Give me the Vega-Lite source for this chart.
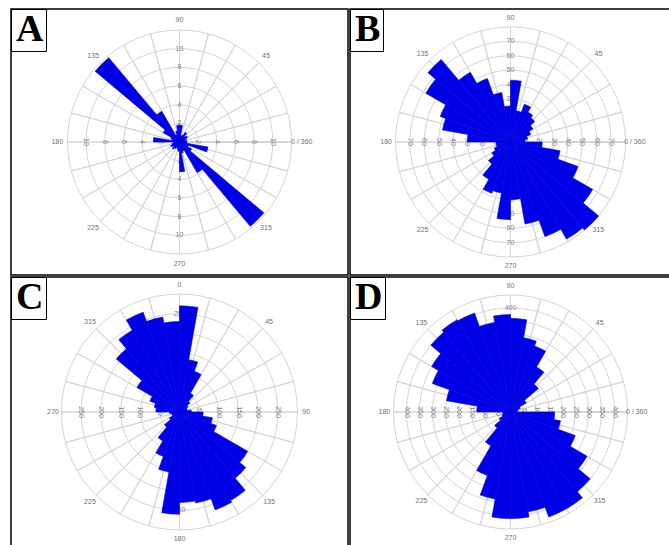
{
"$schema": "https://vega.github.io/schema/vega-lite/v6.json",
"background": "white",
"padding": {"left": 10, "top": 8, "right": 0, "bottom": 0},
"columns": 2,
"spacing": 0,
"resolve": {"scale": {"theta": "independent", "radius": "independent", "color": "independent", "x": "independent", "y": "independent"}, "legend": {"color": "independent"}},
"config": {"view": {"stroke": null}},
"datasets": {
"frame": [{"box": 1}],
"spokes": [{"s":0},{"s":15},{"s":30},{"s":45},{"s":60},{"s":75},{"s":90},{"s":105},{"s":120},{"s":135},{"s":150},{"s":165},{"s":180},{"s":195},{"s":210},{"s":225},{"s":240},{"s":255},{"s":270},{"s":285},{"s":300},{"s":315},{"s":330},{"s":345}],
"dirsM": [{"dir":0,"lab":"0 / 360"},{"dir":45,"lab":"45"},{"dir":90,"lab":"90"},{"dir":135,"lab":"135"},{"dir":180,"lab":"180"},{"dir":225,"lab":"225"},{"dir":270,"lab":"270"},{"dir":315,"lab":"315"}],
"dirsC": [{"dir":0,"lab":"0"},{"dir":45,"lab":"45"},{"dir":90,"lab":"90"},{"dir":135,"lab":"135"},{"dir":180,"lab":"180"},{"dir":225,"lab":"225"},{"dir":270,"lab":"270"},{"dir":315,"lab":"315"}],
"A_rings": [{"ring":2},{"ring":4},{"ring":6},{"ring":8},{"ring":10},{"ring":12}],
"B_rings": [{"ring":10},{"ring":20},{"ring":30},{"ring":40},{"ring":50},{"ring":60},{"ring":70},{"ring":80}],
"C_rings": [{"ring":50},{"ring":100},{"ring":150},{"ring":200},{"ring":250},{"ring":300}],
"D_rings": [{"ring":50},{"ring":100},{"ring":150},{"ring":200},{"ring":250},{"ring":300},{"ring":350},{"ring":400},{"ring":450}],
"A_bins": [
{"panel":"A","a0":0,"a1":10,"n":0.8},{"panel":"A","a0":10,"a1":20,"n":0.6},{"panel":"A","a0":20,"a1":30,"n":0.8},{"panel":"A","a0":30,"a1":40,"n":1.0},{"panel":"A","a0":40,"a1":50,"n":0.8},{"panel":"A","a0":50,"a1":60,"n":1.2},{"panel":"A","a0":60,"a1":70,"n":0.8},{"panel":"A","a0":70,"a1":80,"n":0.6},{"panel":"A","a0":80,"a1":90,"n":1.8},{"panel":"A","a0":90,"a1":100,"n":1.8},{"panel":"A","a0":100,"a1":110,"n":1.2},{"panel":"A","a0":110,"a1":120,"n":0.8},{"panel":"A","a0":120,"a1":130,"n":3.8},{"panel":"A","a0":130,"a1":140,"n":11.8},{"panel":"A","a0":140,"a1":150,"n":2.0},{"panel":"A","a0":150,"a1":160,"n":1.0},{"panel":"A","a0":160,"a1":170,"n":0.8},{"panel":"A","a0":170,"a1":180,"n":2.8},
{"panel":"A","a0":180,"a1":190,"n":0.6},{"panel":"A","a0":190,"a1":200,"n":0.8},{"panel":"A","a0":200,"a1":210,"n":1.0},{"panel":"A","a0":210,"a1":220,"n":0.8},{"panel":"A","a0":220,"a1":230,"n":1.0},{"panel":"A","a0":230,"a1":240,"n":0.8},{"panel":"A","a0":240,"a1":250,"n":0.6},{"panel":"A","a0":250,"a1":260,"n":0.8},{"panel":"A","a0":260,"a1":270,"n":1.0},{"panel":"A","a0":270,"a1":280,"n":3.2},{"panel":"A","a0":280,"a1":290,"n":1.2},{"panel":"A","a0":290,"a1":300,"n":1.0},{"panel":"A","a0":300,"a1":310,"n":3.8},{"panel":"A","a0":310,"a1":320,"n":11.8},{"panel":"A","a0":320,"a1":330,"n":1.5},{"panel":"A","a0":330,"a1":340,"n":1.0},{"panel":"A","a0":340,"a1":350,"n":3.1},{"panel":"A","a0":350,"a1":360,"n":0.8}],
"B_bins": [
{"panel":"B","a0":0,"a1":10,"n":10},{"panel":"B","a0":10,"a1":20,"n":12},{"panel":"B","a0":20,"a1":30,"n":15},{"panel":"B","a0":30,"a1":40,"n":18},{"panel":"B","a0":40,"a1":50,"n":22},{"panel":"B","a0":50,"a1":60,"n":24},{"panel":"B","a0":60,"a1":70,"n":28},{"panel":"B","a0":70,"a1":80,"n":22},{"panel":"B","a0":80,"a1":90,"n":43},{"panel":"B","a0":90,"a1":100,"n":25},{"panel":"B","a0":100,"a1":110,"n":35},{"panel":"B","a0":110,"a1":120,"n":47},{"panel":"B","a0":120,"a1":130,"n":56},{"panel":"B","a0":130,"a1":140,"n":75},{"panel":"B","a0":140,"a1":150,"n":68},{"panel":"B","a0":150,"a1":160,"n":52},{"panel":"B","a0":160,"a1":170,"n":48},{"panel":"B","a0":170,"a1":180,"n":30},
{"panel":"B","a0":180,"a1":190,"n":10},{"panel":"B","a0":190,"a1":200,"n":10},{"panel":"B","a0":200,"a1":210,"n":12},{"panel":"B","a0":210,"a1":220,"n":15},{"panel":"B","a0":220,"a1":230,"n":20},{"panel":"B","a0":230,"a1":240,"n":30},{"panel":"B","a0":240,"a1":250,"n":38},{"panel":"B","a0":250,"a1":260,"n":36},{"panel":"B","a0":260,"a1":270,"n":54},{"panel":"B","a0":270,"a1":280,"n":40},{"panel":"B","a0":280,"a1":290,"n":58},{"panel":"B","a0":290,"a1":300,"n":70},{"panel":"B","a0":300,"a1":310,"n":78},{"panel":"B","a0":310,"a1":320,"n":80},{"panel":"B","a0":320,"a1":330,"n":66},{"panel":"B","a0":330,"a1":340,"n":50},{"panel":"B","a0":340,"a1":350,"n":35},{"panel":"B","a0":350,"a1":360,"n":22}],
"C_bins": [
{"panel":"C","a0":0,"a1":10,"n":270},{"panel":"C","a0":10,"a1":20,"n":135},{"panel":"C","a0":20,"a1":30,"n":110},{"panel":"C","a0":30,"a1":40,"n":55},{"panel":"C","a0":40,"a1":50,"n":35},{"panel":"C","a0":50,"a1":60,"n":25},{"panel":"C","a0":60,"a1":70,"n":20},{"panel":"C","a0":70,"a1":80,"n":20},{"panel":"C","a0":80,"a1":90,"n":30},{"panel":"C","a0":90,"a1":100,"n":60},{"panel":"C","a0":100,"a1":110,"n":85},{"panel":"C","a0":110,"a1":120,"n":100},{"panel":"C","a0":120,"a1":130,"n":200},{"panel":"C","a0":130,"a1":140,"n":220},{"panel":"C","a0":140,"a1":150,"n":260},{"panel":"C","a0":150,"a1":160,"n":265},{"panel":"C","a0":160,"a1":170,"n":235},{"panel":"C","a0":170,"a1":180,"n":230},
{"panel":"C","a0":180,"a1":190,"n":260},{"panel":"C","a0":190,"a1":200,"n":155},{"panel":"C","a0":200,"a1":210,"n":120},{"panel":"C","a0":210,"a1":220,"n":85},{"panel":"C","a0":220,"a1":230,"n":50},{"panel":"C","a0":230,"a1":240,"n":30},{"panel":"C","a0":240,"a1":250,"n":20},{"panel":"C","a0":250,"a1":260,"n":20},{"panel":"C","a0":260,"a1":270,"n":25},{"panel":"C","a0":270,"a1":280,"n":60},{"panel":"C","a0":280,"a1":290,"n":65},{"panel":"C","a0":290,"a1":300,"n":80},{"panel":"C","a0":300,"a1":310,"n":125},{"panel":"C","a0":310,"a1":320,"n":210},{"panel":"C","a0":320,"a1":330,"n":240},{"panel":"C","a0":330,"a1":340,"n":270},{"panel":"C","a0":340,"a1":350,"n":245},{"panel":"C","a0":350,"a1":360,"n":230}],
"D_bins": [
{"panel":"D","a0":0,"a1":10,"n":25},{"panel":"D","a0":10,"a1":20,"n":30},{"panel":"D","a0":20,"a1":30,"n":40},{"panel":"D","a0":30,"a1":40,"n":70},{"panel":"D","a0":40,"a1":50,"n":140},{"panel":"D","a0":50,"a1":60,"n":200},{"panel":"D","a0":60,"a1":70,"n":270},{"panel":"D","a0":70,"a1":80,"n":290},{"panel":"D","a0":80,"a1":90,"n":360},{"panel":"D","a0":90,"a1":100,"n":375},{"panel":"D","a0":100,"a1":110,"n":350},{"panel":"D","a0":110,"a1":120,"n":405},{"panel":"D","a0":120,"a1":130,"n":410},{"panel":"D","a0":130,"a1":140,"n":400},{"panel":"D","a0":140,"a1":150,"n":350},{"panel":"D","a0":150,"a1":160,"n":320},{"panel":"D","a0":160,"a1":170,"n":250},{"panel":"D","a0":170,"a1":180,"n":130},
{"panel":"D","a0":180,"a1":190,"n":30},{"panel":"D","a0":190,"a1":200,"n":30},{"panel":"D","a0":200,"a1":210,"n":35},{"panel":"D","a0":210,"a1":220,"n":50},{"panel":"D","a0":220,"a1":230,"n":80},{"panel":"D","a0":230,"a1":240,"n":150},{"panel":"D","a0":240,"a1":250,"n":260},{"panel":"D","a0":250,"a1":260,"n":340},{"panel":"D","a0":260,"a1":270,"n":410},{"panel":"D","a0":270,"a1":280,"n":410},{"panel":"D","a0":280,"a1":290,"n":390},{"panel":"D","a0":290,"a1":300,"n":430},{"panel":"D","a0":300,"a1":310,"n":430},{"panel":"D","a0":310,"a1":320,"n":400},{"panel":"D","a0":320,"a1":330,"n":340},{"panel":"D","a0":330,"a1":340,"n":265},{"panel":"D","a0":340,"a1":350,"n":195},{"panel":"D","a0":350,"a1":360,"n":170}]
},
"concat": [
{"width": 337, "height": 266, "layer": [
 {"data": {"name": "A_rings"}, "mark": {"type": "arc", "filled": false, "stroke": "#d4d4d4", "strokeWidth": 1}, "encoding": {"theta": {"datum": 0, "type": "quantitative", "scale": {"type": "linear", "domain": [0, 360], "range": [1.5707963, -4.712389]}}, "theta2": {"datum": 360}, "radius": {"field": "ring", "type": "quantitative", "stack": null, "scale": {"type": "linear", "domain": [0, 12], "range": [0, 112], "zero": true}}}},
 {"data": {"name": "spokes"}, "mark": {"type": "arc", "filled": false, "stroke": "#d4d4d4", "strokeWidth": 1}, "encoding": {"theta": {"field": "s", "type": "quantitative", "stack": null, "scale": {"type": "linear", "domain": [0, 360], "range": [1.5707963, -4.712389]}}, "theta2": {"field": "s"}, "radius": {"datum": 12, "type": "quantitative", "scale": {"type": "linear", "domain": [0, 12], "range": [0, 112], "zero": true}}}},
 {"data": {"name": "A_rings"}, "transform": [{"filter": "datum.ring < 12"}], "mark": {"type": "text", "fontSize": 7, "font": "Liberation Sans", "fill": "#808080", "angle": 90}, "encoding": {"theta": {"datum": 0, "type": "quantitative", "scale": {"type": "linear", "domain": [0, 360], "range": [1.5707963, -4.712389]}}, "radius": {"field": "ring", "type": "quantitative", "stack": null, "scale": {"type": "linear", "domain": [0, 12], "range": [0, 112], "zero": true}}, "text": {"field": "ring", "type": "quantitative"}}},
 {"data": {"name": "A_rings"}, "transform": [{"filter": "datum.ring < 12"}], "mark": {"type": "text", "fontSize": 7, "font": "Liberation Sans", "fill": "#808080", "angle": 90}, "encoding": {"theta": {"datum": 180, "type": "quantitative", "scale": {"type": "linear", "domain": [0, 360], "range": [1.5707963, -4.712389]}}, "radius": {"field": "ring", "type": "quantitative", "stack": null, "scale": {"type": "linear", "domain": [0, 12], "range": [0, 112], "zero": true}}, "text": {"field": "ring", "type": "quantitative"}}},
 {"data": {"name": "A_rings"}, "transform": [{"filter": "datum.ring < 12"}], "mark": {"type": "text", "fontSize": 7, "font": "Liberation Sans", "fill": "#808080"}, "encoding": {"theta": {"datum": 90, "type": "quantitative", "scale": {"type": "linear", "domain": [0, 360], "range": [1.5707963, -4.712389]}}, "radius": {"field": "ring", "type": "quantitative", "stack": null, "scale": {"type": "linear", "domain": [0, 12], "range": [0, 112], "zero": true}}, "text": {"field": "ring", "type": "quantitative"}}},
 {"data": {"name": "A_rings"}, "transform": [{"filter": "datum.ring < 12"}], "mark": {"type": "text", "fontSize": 7, "font": "Liberation Sans", "fill": "#808080"}, "encoding": {"theta": {"datum": 270, "type": "quantitative", "scale": {"type": "linear", "domain": [0, 360], "range": [1.5707963, -4.712389]}}, "radius": {"field": "ring", "type": "quantitative", "stack": null, "scale": {"type": "linear", "domain": [0, 12], "range": [0, 112], "zero": true}}, "text": {"field": "ring", "type": "quantitative"}}},
 {"data": {"name": "dirsM"}, "mark": {"type": "text", "fontSize": 7, "font": "Liberation Sans", "fill": "#707070"}, "encoding": {"theta": {"field": "dir", "type": "quantitative", "stack": null, "scale": {"type": "linear", "domain": [0, 360], "range": [1.5707963, -4.712389]}}, "radius": {"datum": 13.1, "type": "quantitative", "scale": {"type": "linear", "domain": [0, 12], "range": [0, 112], "zero": true}}, "text": {"field": "lab"}}},
 {"data": {"name": "A_bins"}, "mark": {"type": "arc", "stroke": "#0000e6", "strokeWidth": 0.6}, "encoding": {"theta": {"field": "a0", "type": "quantitative", "stack": null, "scale": {"type": "linear", "domain": [0, 360], "range": [1.5707963, -4.712389]}}, "theta2": {"field": "a1"}, "radius": {"field": "n", "type": "quantitative", "stack": null, "scale": {"type": "linear", "domain": [0, 12], "range": [0, 112], "zero": true}}, "color": {"field": "panel", "type": "nominal", "scale": {"range": ["#0000e6"]}, "legend": {"title": null, "orient": "top-left", "offset": 0, "padding": 2, "strokeColor": "black", "fillColor": "white", "symbolSize": 0, "symbolType": "square", "symbolOpacity": 0, "symbolStrokeWidth": 0, "labelOffset": -35, "labelFont": "Liberation Serif", "labelFontSize": 38, "labelFontWeight": "bold", "labelColor": "black", "encode": {"legend": {"update": {"strokeWidth": {"value": 2}}}}}}}},
 {"data": {"name": "frame"}, "mark": {"type": "rect", "filled": false, "stroke": "black", "strokeWidth": 1.5}, "encoding": {"x": {"datum": 0, "type": "quantitative", "scale": {"domain": [0, 1]}, "axis": null}, "x2": {"datum": 1}, "y": {"datum": 0, "type": "quantitative", "scale": {"domain": [0, 1]}, "axis": null}, "y2": {"datum": 1}}}
]},
{"width": 321, "height": 266, "layer": [
 {"data": {"name": "B_rings"}, "mark": {"type": "arc", "filled": false, "stroke": "#d4d4d4", "strokeWidth": 1}, "encoding": {"theta": {"datum": 0, "type": "quantitative", "scale": {"type": "linear", "domain": [0, 360], "range": [1.5707963, -4.712389]}}, "theta2": {"datum": 360}, "radius": {"field": "ring", "type": "quantitative", "stack": null, "scale": {"type": "linear", "domain": [0, 80], "range": [0, 115], "zero": true}}}},
 {"data": {"name": "spokes"}, "mark": {"type": "arc", "filled": false, "stroke": "#d4d4d4", "strokeWidth": 1}, "encoding": {"theta": {"field": "s", "type": "quantitative", "stack": null, "scale": {"type": "linear", "domain": [0, 360], "range": [1.5707963, -4.712389]}}, "theta2": {"field": "s"}, "radius": {"datum": 80, "type": "quantitative", "scale": {"type": "linear", "domain": [0, 80], "range": [0, 115], "zero": true}}}},
 {"data": {"name": "B_rings"}, "transform": [{"filter": "datum.ring < 80"}], "mark": {"type": "text", "fontSize": 7, "font": "Liberation Sans", "fill": "#808080", "angle": 90}, "encoding": {"theta": {"datum": 0, "type": "quantitative", "scale": {"type": "linear", "domain": [0, 360], "range": [1.5707963, -4.712389]}}, "radius": {"field": "ring", "type": "quantitative", "stack": null, "scale": {"type": "linear", "domain": [0, 80], "range": [0, 115], "zero": true}}, "text": {"field": "ring", "type": "quantitative"}}},
 {"data": {"name": "B_rings"}, "transform": [{"filter": "datum.ring < 80"}], "mark": {"type": "text", "fontSize": 7, "font": "Liberation Sans", "fill": "#808080", "angle": 90}, "encoding": {"theta": {"datum": 180, "type": "quantitative", "scale": {"type": "linear", "domain": [0, 360], "range": [1.5707963, -4.712389]}}, "radius": {"field": "ring", "type": "quantitative", "stack": null, "scale": {"type": "linear", "domain": [0, 80], "range": [0, 115], "zero": true}}, "text": {"field": "ring", "type": "quantitative"}}},
 {"data": {"name": "B_rings"}, "transform": [{"filter": "datum.ring < 80"}], "mark": {"type": "text", "fontSize": 7, "font": "Liberation Sans", "fill": "#808080"}, "encoding": {"theta": {"datum": 90, "type": "quantitative", "scale": {"type": "linear", "domain": [0, 360], "range": [1.5707963, -4.712389]}}, "radius": {"field": "ring", "type": "quantitative", "stack": null, "scale": {"type": "linear", "domain": [0, 80], "range": [0, 115], "zero": true}}, "text": {"field": "ring", "type": "quantitative"}}},
 {"data": {"name": "B_rings"}, "transform": [{"filter": "datum.ring < 80"}], "mark": {"type": "text", "fontSize": 7, "font": "Liberation Sans", "fill": "#808080"}, "encoding": {"theta": {"datum": 270, "type": "quantitative", "scale": {"type": "linear", "domain": [0, 360], "range": [1.5707963, -4.712389]}}, "radius": {"field": "ring", "type": "quantitative", "stack": null, "scale": {"type": "linear", "domain": [0, 80], "range": [0, 115], "zero": true}}, "text": {"field": "ring", "type": "quantitative"}}},
 {"data": {"name": "dirsM"}, "mark": {"type": "text", "fontSize": 7, "font": "Liberation Sans", "fill": "#707070"}, "encoding": {"theta": {"field": "dir", "type": "quantitative", "stack": null, "scale": {"type": "linear", "domain": [0, 360], "range": [1.5707963, -4.712389]}}, "radius": {"datum": 86.5, "type": "quantitative", "scale": {"type": "linear", "domain": [0, 80], "range": [0, 115], "zero": true}}, "text": {"field": "lab"}}},
 {"data": {"name": "B_bins"}, "mark": {"type": "arc", "stroke": "#0000e6", "strokeWidth": 0.6}, "encoding": {"theta": {"field": "a0", "type": "quantitative", "stack": null, "scale": {"type": "linear", "domain": [0, 360], "range": [1.5707963, -4.712389]}}, "theta2": {"field": "a1"}, "radius": {"field": "n", "type": "quantitative", "stack": null, "scale": {"type": "linear", "domain": [0, 80], "range": [0, 115], "zero": true}}, "color": {"field": "panel", "type": "nominal", "scale": {"range": ["#0000e6"]}, "legend": {"title": null, "orient": "top-left", "offset": 0, "padding": 2, "strokeColor": "black", "fillColor": "white", "symbolSize": 0, "symbolType": "square", "symbolOpacity": 0, "symbolStrokeWidth": 0, "labelOffset": -35, "labelFont": "Liberation Serif", "labelFontSize": 38, "labelFontWeight": "bold", "labelColor": "black", "encode": {"legend": {"update": {"strokeWidth": {"value": 2}}}}}}}},
 {"data": {"name": "frame"}, "mark": {"type": "rect", "filled": false, "stroke": "black", "strokeWidth": 1.5}, "encoding": {"x": {"datum": 0, "type": "quantitative", "scale": {"domain": [0, 1]}, "axis": null}, "x2": {"datum": 1}, "y": {"datum": 0, "type": "quantitative", "scale": {"domain": [0, 1]}, "axis": null}, "y2": {"datum": 1}}}
]},
{"width": 337, "height": 270, "layer": [
 {"data": {"name": "C_rings"}, "mark": {"type": "arc", "filled": false, "stroke": "#d4d4d4", "strokeWidth": 1}, "encoding": {"theta": {"datum": 0, "type": "quantitative", "scale": {"type": "linear", "domain": [0, 360], "range": [0, 6.2831853]}}, "theta2": {"datum": 360}, "radius": {"field": "ring", "type": "quantitative", "stack": null, "scale": {"type": "linear", "domain": [0, 300], "range": [0, 118], "zero": true}}}},
 {"data": {"name": "spokes"}, "mark": {"type": "arc", "filled": false, "stroke": "#d4d4d4", "strokeWidth": 1}, "encoding": {"theta": {"field": "s", "type": "quantitative", "stack": null, "scale": {"type": "linear", "domain": [0, 360], "range": [0, 6.2831853]}}, "theta2": {"field": "s"}, "radius": {"datum": 300, "type": "quantitative", "scale": {"type": "linear", "domain": [0, 300], "range": [0, 118], "zero": true}}}},
 {"data": {"name": "C_rings"}, "transform": [{"filter": "datum.ring < 300"}], "mark": {"type": "text", "fontSize": 7, "font": "Liberation Sans", "fill": "#808080", "angle": 90}, "encoding": {"theta": {"datum": 90, "type": "quantitative", "scale": {"type": "linear", "domain": [0, 360], "range": [0, 6.2831853]}}, "radius": {"field": "ring", "type": "quantitative", "stack": null, "scale": {"type": "linear", "domain": [0, 300], "range": [0, 118], "zero": true}}, "text": {"field": "ring", "type": "quantitative"}}},
 {"data": {"name": "C_rings"}, "transform": [{"filter": "datum.ring < 300"}], "mark": {"type": "text", "fontSize": 7, "font": "Liberation Sans", "fill": "#808080", "angle": 90}, "encoding": {"theta": {"datum": 270, "type": "quantitative", "scale": {"type": "linear", "domain": [0, 360], "range": [0, 6.2831853]}}, "radius": {"field": "ring", "type": "quantitative", "stack": null, "scale": {"type": "linear", "domain": [0, 300], "range": [0, 118], "zero": true}}, "text": {"field": "ring", "type": "quantitative"}}},
 {"data": {"name": "C_rings"}, "transform": [{"filter": "datum.ring < 300"}], "mark": {"type": "text", "fontSize": 7, "font": "Liberation Sans", "fill": "#808080"}, "encoding": {"theta": {"datum": 0, "type": "quantitative", "scale": {"type": "linear", "domain": [0, 360], "range": [0, 6.2831853]}}, "radius": {"field": "ring", "type": "quantitative", "stack": null, "scale": {"type": "linear", "domain": [0, 300], "range": [0, 118], "zero": true}}, "text": {"field": "ring", "type": "quantitative"}}},
 {"data": {"name": "C_rings"}, "transform": [{"filter": "datum.ring < 300"}], "mark": {"type": "text", "fontSize": 7, "font": "Liberation Sans", "fill": "#808080"}, "encoding": {"theta": {"datum": 180, "type": "quantitative", "scale": {"type": "linear", "domain": [0, 360], "range": [0, 6.2831853]}}, "radius": {"field": "ring", "type": "quantitative", "stack": null, "scale": {"type": "linear", "domain": [0, 300], "range": [0, 118], "zero": true}}, "text": {"field": "ring", "type": "quantitative"}}},
 {"data": {"name": "dirsC"}, "mark": {"type": "text", "fontSize": 7, "font": "Liberation Sans", "fill": "#707070"}, "encoding": {"theta": {"field": "dir", "type": "quantitative", "stack": null, "scale": {"type": "linear", "domain": [0, 360], "range": [0, 6.2831853]}}, "radius": {"datum": 322, "type": "quantitative", "scale": {"type": "linear", "domain": [0, 300], "range": [0, 118], "zero": true}}, "text": {"field": "lab"}}},
 {"data": {"name": "C_bins"}, "mark": {"type": "arc", "stroke": "#0000e6", "strokeWidth": 0.6}, "encoding": {"theta": {"field": "a0", "type": "quantitative", "stack": null, "scale": {"type": "linear", "domain": [0, 360], "range": [0, 6.2831853]}}, "theta2": {"field": "a1"}, "radius": {"field": "n", "type": "quantitative", "stack": null, "scale": {"type": "linear", "domain": [0, 300], "range": [0, 118], "zero": true}}, "color": {"field": "panel", "type": "nominal", "scale": {"range": ["#0000e6"]}, "legend": {"title": null, "orient": "top-left", "offset": 0, "padding": 2, "strokeColor": "black", "fillColor": "white", "symbolSize": 0, "symbolType": "square", "symbolOpacity": 0, "symbolStrokeWidth": 0, "labelOffset": -35, "labelFont": "Liberation Serif", "labelFontSize": 38, "labelFontWeight": "bold", "labelColor": "black", "encode": {"legend": {"update": {"strokeWidth": {"value": 2}}}}}}}},
 {"data": {"name": "frame"}, "mark": {"type": "rect", "filled": false, "stroke": "black", "strokeWidth": 1.5}, "encoding": {"x": {"datum": 0, "type": "quantitative", "scale": {"domain": [0, 1]}, "axis": null}, "x2": {"datum": 1}, "y": {"datum": 0, "type": "quantitative", "scale": {"domain": [0, 1]}, "axis": null}, "y2": {"datum": 1}}}
]},
{"width": 321, "height": 270, "layer": [
 {"data": {"name": "D_rings"}, "mark": {"type": "arc", "filled": false, "stroke": "#d4d4d4", "strokeWidth": 1}, "encoding": {"theta": {"datum": 0, "type": "quantitative", "scale": {"type": "linear", "domain": [0, 360], "range": [1.5707963, -4.712389]}}, "theta2": {"datum": 360}, "radius": {"field": "ring", "type": "quantitative", "stack": null, "scale": {"type": "linear", "domain": [0, 450], "range": [0, 117], "zero": true}}}},
 {"data": {"name": "spokes"}, "mark": {"type": "arc", "filled": false, "stroke": "#d4d4d4", "strokeWidth": 1}, "encoding": {"theta": {"field": "s", "type": "quantitative", "stack": null, "scale": {"type": "linear", "domain": [0, 360], "range": [1.5707963, -4.712389]}}, "theta2": {"field": "s"}, "radius": {"datum": 450, "type": "quantitative", "scale": {"type": "linear", "domain": [0, 450], "range": [0, 117], "zero": true}}}},
 {"data": {"name": "D_rings"}, "transform": [{"filter": "datum.ring < 450"}], "mark": {"type": "text", "fontSize": 7, "font": "Liberation Sans", "fill": "#808080", "angle": 90}, "encoding": {"theta": {"datum": 0, "type": "quantitative", "scale": {"type": "linear", "domain": [0, 360], "range": [1.5707963, -4.712389]}}, "radius": {"field": "ring", "type": "quantitative", "stack": null, "scale": {"type": "linear", "domain": [0, 450], "range": [0, 117], "zero": true}}, "text": {"field": "ring", "type": "quantitative"}}},
 {"data": {"name": "D_rings"}, "transform": [{"filter": "datum.ring < 450"}], "mark": {"type": "text", "fontSize": 7, "font": "Liberation Sans", "fill": "#808080", "angle": 90}, "encoding": {"theta": {"datum": 180, "type": "quantitative", "scale": {"type": "linear", "domain": [0, 360], "range": [1.5707963, -4.712389]}}, "radius": {"field": "ring", "type": "quantitative", "stack": null, "scale": {"type": "linear", "domain": [0, 450], "range": [0, 117], "zero": true}}, "text": {"field": "ring", "type": "quantitative"}}},
 {"data": {"name": "D_rings"}, "transform": [{"filter": "datum.ring < 450"}], "mark": {"type": "text", "fontSize": 7, "font": "Liberation Sans", "fill": "#808080"}, "encoding": {"theta": {"datum": 90, "type": "quantitative", "scale": {"type": "linear", "domain": [0, 360], "range": [1.5707963, -4.712389]}}, "radius": {"field": "ring", "type": "quantitative", "stack": null, "scale": {"type": "linear", "domain": [0, 450], "range": [0, 117], "zero": true}}, "text": {"field": "ring", "type": "quantitative"}}},
 {"data": {"name": "D_rings"}, "transform": [{"filter": "datum.ring < 450"}], "mark": {"type": "text", "fontSize": 7, "font": "Liberation Sans", "fill": "#808080"}, "encoding": {"theta": {"datum": 270, "type": "quantitative", "scale": {"type": "linear", "domain": [0, 360], "range": [1.5707963, -4.712389]}}, "radius": {"field": "ring", "type": "quantitative", "stack": null, "scale": {"type": "linear", "domain": [0, 450], "range": [0, 117], "zero": true}}, "text": {"field": "ring", "type": "quantitative"}}},
 {"data": {"name": "dirsM"}, "mark": {"type": "text", "fontSize": 7, "font": "Liberation Sans", "fill": "#707070"}, "encoding": {"theta": {"field": "dir", "type": "quantitative", "stack": null, "scale": {"type": "linear", "domain": [0, 360], "range": [1.5707963, -4.712389]}}, "radius": {"datum": 485, "type": "quantitative", "scale": {"type": "linear", "domain": [0, 450], "range": [0, 117], "zero": true}}, "text": {"field": "lab"}}},
 {"data": {"name": "D_bins"}, "mark": {"type": "arc", "stroke": "#0000e6", "strokeWidth": 0.6}, "encoding": {"theta": {"field": "a0", "type": "quantitative", "stack": null, "scale": {"type": "linear", "domain": [0, 360], "range": [1.5707963, -4.712389]}}, "theta2": {"field": "a1"}, "radius": {"field": "n", "type": "quantitative", "stack": null, "scale": {"type": "linear", "domain": [0, 450], "range": [0, 117], "zero": true}}, "color": {"field": "panel", "type": "nominal", "scale": {"range": ["#0000e6"]}, "legend": {"title": null, "orient": "top-left", "offset": 0, "padding": 2, "strokeColor": "black", "fillColor": "white", "symbolSize": 0, "symbolType": "square", "symbolOpacity": 0, "symbolStrokeWidth": 0, "labelOffset": -35, "labelFont": "Liberation Serif", "labelFontSize": 38, "labelFontWeight": "bold", "labelColor": "black", "encode": {"legend": {"update": {"strokeWidth": {"value": 2}}}}}}}},
 {"data": {"name": "frame"}, "mark": {"type": "rect", "filled": false, "stroke": "black", "strokeWidth": 1.5}, "encoding": {"x": {"datum": 0, "type": "quantitative", "scale": {"domain": [0, 1]}, "axis": null}, "x2": {"datum": 1}, "y": {"datum": 0, "type": "quantitative", "scale": {"domain": [0, 1]}, "axis": null}, "y2": {"datum": 1}}}
]}
]
}
